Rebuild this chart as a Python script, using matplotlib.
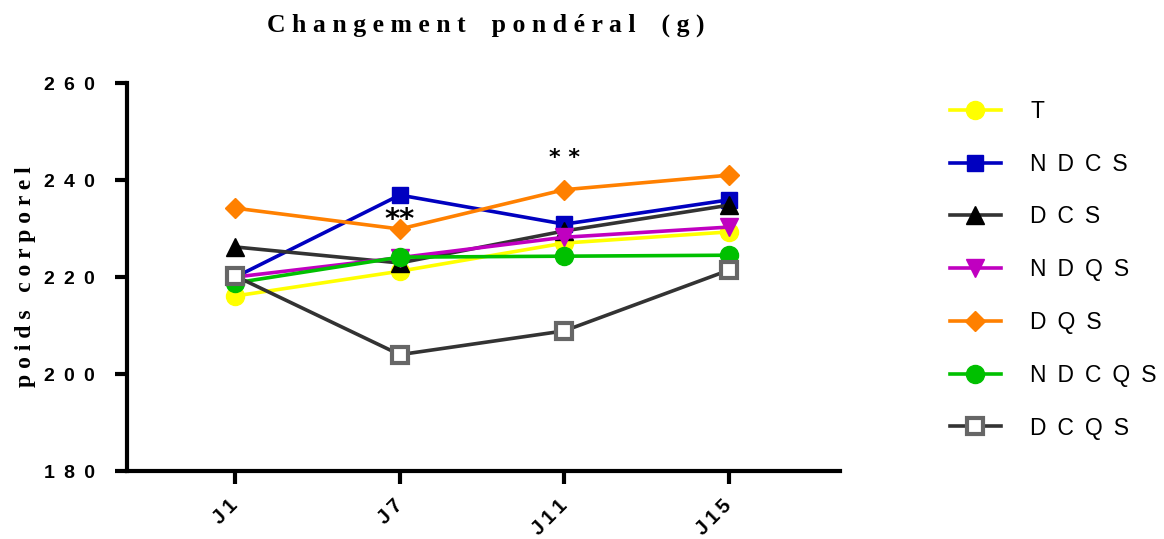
import matplotlib.pyplot as plt
import matplotlib.transforms as mtransforms
import numpy as np

days = ["J1", "J7", "J11", "J15"]

groups = ["T", "NDCS", "DCS", "NDQS", "DQS", "NDCQS", "DCQS"]
T = [216.1, 221.2, 227.0, 229.3]
NDCS = [220.0, 236.9, 230.9, 235.9]
DCS = [226.2, 222.9, 229.5, 234.8]
NDQS = [220.0, 224.0, 228.2, 230.3]
DQS = [234.2, 229.9, 238.0, 241.0]
NDCQS = [218.8, 224.1, 224.3, 224.5]
DCQS = [220.2, 204.0, 208.9, 221.4]

# significance marks: (day index, height, text, size)
stars = [(1, 231.8, "**", 21), (2, 244.6, "* *", 16)]

SANS = ["Liberation Sans", "DejaVu Sans"]
WIDE = " \u2009"

def spaced(s, sep=" "):
    return sep.join(s)

styles = {
    "T":     dict(color="#FFFF00", marker="o", mfc="#FFFF00", mec="#FFFF00"),
    "NDCS":  dict(color="#0000C0", marker="s", mfc="#0000C0", mec="#0000C0"),
    "DCS":   dict(color="#333333", marker="^", mfc="black", mec="black"),
    "NDQS":  dict(color="#C000C0", marker="v", mfc="#C000C0", mec="#C000C0"),
    "DQS":   dict(color="#FF8000", marker="D", mfc="#FF8000", mec="#FF8000"),
    "NDCQS": dict(color="#00C000", marker="o", mfc="#00C000", mec="#00C000"),
    "DCQS":  dict(color="#333333", marker="s", mfc="white", mec="#666666"),
}
sizes = {"o": 13, "s": 12, "^": 13, "v": 13, "D": 10}

fig = plt.figure(figsize=(11.64, 5.39), dpi=100)
ax = fig.add_axes([0.109, 0.126, 0.613, 0.72])

x = np.arange(len(days))
data = [T, NDCS, DCS, NDQS, DQS, NDCQS, DCQS]
for name, vals in zip(groups, data):
    st = styles[name]
    ms = sizes[st["marker"]]
    ax.plot(x, vals, lw=2.6, ms=ms, mew=3 if name == "DCQS" else 1,
            label=spaced(name, WIDE), **st)

for i, h, txt, fs in stars:
    ax.text(x[i], h, txt, ha="center", va="center", fontsize=fs,
            fontweight="bold", family="DejaVu Sans")

yticks = [180, 200, 220, 240, 260]
ax.set_xlim(-0.66, 3.68)
ax.set_ylim(180, 260)
ax.set_yticks(yticks)
ax.set_yticklabels([spaced(str(v), WIDE) for v in yticks],
                   fontsize=14, fontweight="bold", family=SANS)

# day labels drawn as rotated texts hanging below each tick
ax.set_xticks(x)
ax.set_xticklabels([])
lab_tr = ax.get_xaxis_transform() + mtransforms.ScaledTranslation(-0.07, -0.25, fig.dpi_scale_trans)
for xi, d in zip(x, days):
    ax.text(xi, 0, spaced(d, "\u2009"), transform=lab_tr, rotation=45,
            ha="right", va="top", rotation_mode="anchor", fontsize=14.5,
            fontweight="bold", family=SANS, clip_on=False)

for s in ["top", "right"]:
    ax.spines[s].set_visible(False)
for s in ["left", "bottom"]:
    ax.spines[s].set_linewidth(3)
ax.tick_params(axis="both", width=3, length=9, pad=14)

ax.set_ylabel(spaced("poids corporel"), fontsize=17, fontweight="bold",
              family="Liberation Serif")
ax.yaxis.set_label_coords(-0.128, 0.5)

fig.text(0.417, 0.953, spaced("Changement") + "    " + spaced("pondéral") + "    ( g )",
         ha="center", va="center", fontsize=18.5, fontweight="bold",
         family="Liberation Serif")

ax.legend(loc="upper left", bbox_to_anchor=(1.125, 1.01), frameon=False,
          handlelength=2.2, labelspacing=1.30, handletextpad=1.3,
          prop={"family": SANS, "size": 16.5})

fig.savefig("out.png", dpi=100)
